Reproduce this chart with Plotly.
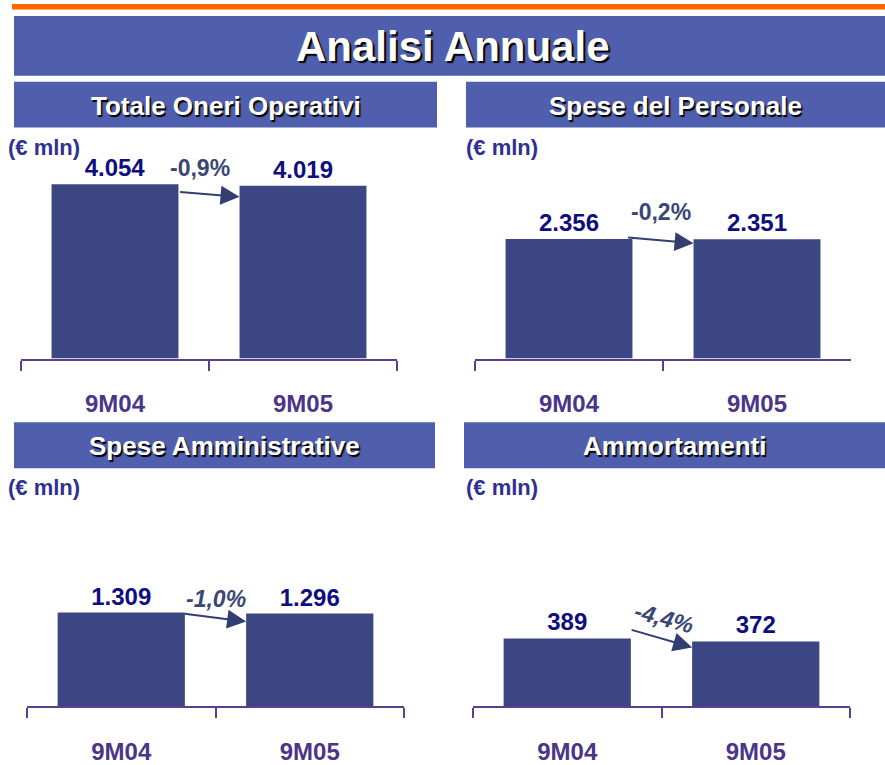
import plotly.graph_objects as go

# ---------------- data ----------------
categories = ["9M04", "9M05"]
panel_titles = ["Totale Oneri Operativi", "Spese del Personale",
                "Spese Amministrative", "Ammortamenti"]
oneri_operativi = [4054, 4019]
spese_personale = [2356, 2351]
spese_amministrative = [1309, 1296]
ammortamenti = [389, 372]
unit_label = "(€ mln)"
main_title = "Analisi Annuale"

series = [oneri_operativi, spese_personale, spese_amministrative, ammortamenti]

# ---------------- layout helpers (pixel -> paper) ----------------
W, H = 885, 765


def px(x):
    return x / W


def py(y):
    return 1 - y / H


BANNER = "#4F5FAD"
BAR = "#3B4682"
VAL = "#0E0E80"
CAT = "#4B3589"
AXIS = "#5A3F90"
PCT = "#3A4675"
ARROW = "#323E72"
UNIT = "#2E3192"
SANS = "Liberation Sans, Arial, sans-serif"

# per-panel styling / placement
panels = [
    dict(xd=(21, 397), yd=(140, 360), ymax=5097, head=(14, 437, 82, 128), unit=(6, 148),
         arr=dict(ys=-11, ax=-61, ay=-5), pct=dict(xs=-9, ys=18, ang=0, style="normal")),
    dict(xd=(475, 851), yd=(140, 360), ymax=4319, head=(466, 885, 82, 128), unit=(464, 148),
         arr=dict(ys=-4, ax=-67, ay=-6), pct=dict(xs=-2, ys=27, ang=0, style="normal")),
    dict(xd=(27, 404), yd=(490, 709), ymax=3050, head=(14, 435, 424, 470), unit=(6, 489),
         arr=dict(ys=-8, ax=-63, ay=-8), pct=dict(xs=0, ys=15, ang=0, style="italic")),
    dict(xd=(473, 850), yd=(490, 709), ymax=1253, head=(464, 885, 424, 470), unit=(464, 489),
         arr=dict(ys=-6, ax=-62, ay=-18), pct=dict(xs=2, ys=23, ang=15, style="italic")),
]

BAR_W = 0.675

fig = go.Figure()
shapes = []
annotations = []

# top orange rule and main banner
shapes.append(dict(type="rect", xref="paper", yref="paper", x0=px(12), x1=px(885),
                   y0=py(9.5), y1=py(4), fillcolor="#FF6600", line=dict(width=0), layer="below"))
shapes.append(dict(type="rect", xref="paper", yref="paper", x0=px(14), x1=px(885),
                   y0=py(76), y1=py(16), fillcolor=BANNER, line=dict(width=0), layer="below"))
annotations.append(dict(xref="paper", yref="paper", x=px(453), y=py(47), text="<b>%s</b>" % main_title,
                        showarrow=False, xanchor="center", yanchor="middle",
                        font=dict(family=SANS, size=42, color="white",
                                  shadow="2px 2px 1px #000000")))

for i, (vals, title, p) in enumerate(zip(series, panel_titles, panels), start=1):
    xa = "x" if i == 1 else "x%d" % i
    ya = "y" if i == 1 else "y%d" % i
    pct_val = (vals[1] / vals[0] - 1) * 100
    pct_txt = ("%.1f%%" % pct_val).replace(".", ",")

    fig.add_trace(go.Bar(
        x=categories, y=vals, width=BAR_W, xaxis=xa, yaxis=ya,
        marker=dict(color=BAR, line=dict(width=0)),
        texttemplate="<b>%{y:,}</b>", textposition="outside",
        textfont=dict(family=SANS, size=24, color=VAL),
        cliponaxis=False, showlegend=False, hoverinfo="skip",
    ))

    x_layout = dict(
        domain=[px(p["xd"][0]), px(p["xd"][1])], anchor=ya, type="category",
        range=[-0.5, 1.5], showline=True, linecolor=AXIS, linewidth=2,
        ticks="outside", tickson="boundaries", ticklen=10, tickwidth=1.5, tickcolor=AXIS,
        tickfont=dict(family=SANS, size=24, color=CAT), ticklabelstandoff=23,
        showgrid=False, zeroline=False, fixedrange=True,
        tickvals=categories, ticktext=["<b>%s</b>" % c for c in categories],
    )
    y_layout = dict(
        domain=[py(p["yd"][1]), py(p["yd"][0])], anchor=xa, range=[0, p["ymax"]],
        visible=False, fixedrange=True,
    )
    fig.update_layout(**{("xaxis" if i == 1 else "xaxis%d" % i): x_layout,
                         ("yaxis" if i == 1 else "yaxis%d" % i): y_layout})

    # header banner
    hx0, hx1, hy0, hy1 = p["head"]
    shapes.append(dict(type="rect", xref="paper", yref="paper", x0=px(hx0), x1=px(hx1),
                       y0=py(hy1), y1=py(hy0), fillcolor=BANNER, line=dict(width=0), layer="below"))
    annotations.append(dict(xref="paper", yref="paper", x=px((hx0 + hx1) / 2), y=py((hy0 + hy1) / 2 + 1),
                            text="<b>%s</b>" % title, showarrow=False,
                            xanchor="center", yanchor="middle",
                            font=dict(family=SANS, size=26, color="white",
                                      shadow="1.5px 1.5px 1px #000000")))
    # unit label
    ux, uy = p["unit"]
    annotations.append(dict(xref="paper", yref="paper", x=px(ux), y=py(uy), text="<b>%s</b>" % unit_label,
                            showarrow=False, xanchor="left", yanchor="middle",
                            font=dict(family=SANS, size=22, color=UNIT)))
    # arrow between bars
    a = p["arr"]
    annotations.append(dict(xref=xa, yref=ya, x=1 - BAR_W / 2, y=vals[1], yshift=a["ys"],
                            ax=a["ax"], ay=a["ay"], text="", showarrow=True,
                            arrowhead=2, arrowsize=1.9, arrowwidth=2, arrowcolor=ARROW, standoff=0))
    # percentage change
    q = p["pct"]
    annotations.append(dict(xref=xa, yref=ya, x=0.5, y=vals[1], xshift=q["xs"], yshift=q["ys"],
                            text="<b>%s</b>" % pct_txt, showarrow=False, textangle=q["ang"],
                            xanchor="center", yanchor="middle",
                            font=dict(family=SANS, size=23, color=PCT, style=q["style"])))

fig.update_layout(
    width=W, height=H, margin=dict(l=0, r=0, t=0, b=0),
    paper_bgcolor="white", plot_bgcolor="rgba(0,0,0,0)",
    separators=",.", bargap=0.3,
    shapes=shapes, annotations=annotations, showlegend=False,
)

fig.write_html("out.html", config={"displayModeBar": False},
               post_script="document.body.style.margin='0px';")
